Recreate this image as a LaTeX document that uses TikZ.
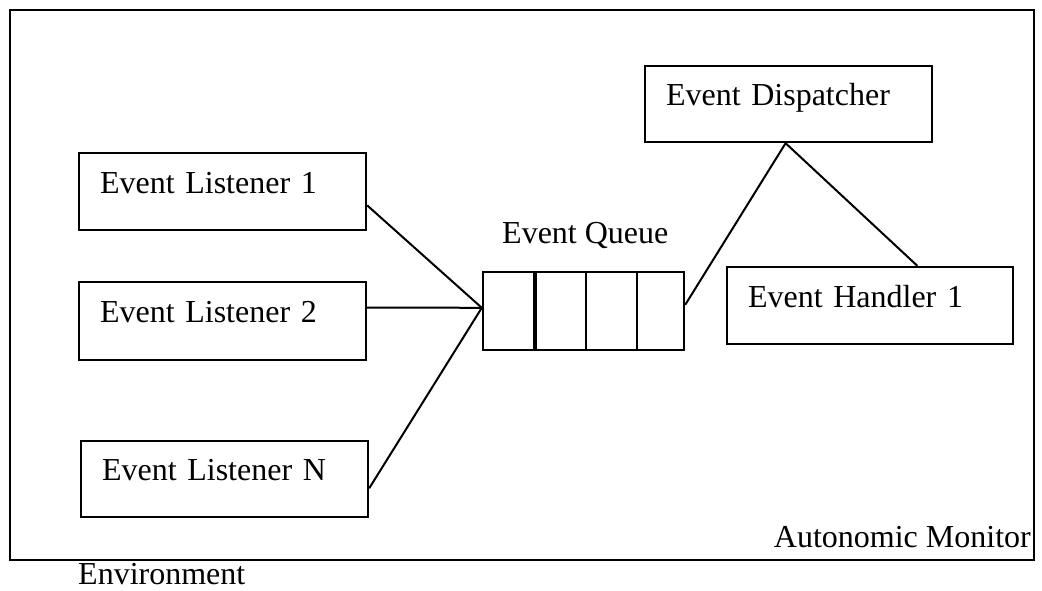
\documentclass[tikz,border=0pt]{standalone}
\usepackage{fontspec}
\setmainfont{Liberation Serif}
\usetikzlibrary{calc}
\begin{document}
\begin{tikzpicture}[x=1pt,y=-1pt,
  every node/.style={font=\fontsize{32}{38}\selectfont},
  frame/.style={draw,line width=2.5pt,inner sep=0pt},
  unit/.style={draw,line width=2.4pt,inner xsep=21pt,inner ysep=0pt,
    text height=21pt,text depth=18pt,align=left},
  cell/.style={draw,line width=2.4pt,inner sep=0pt,minimum height=78pt},
  caption/.style={inner sep=0pt},
  link/.style={line width=2pt}]
\useasboundingbox (0,0) rectangle (1042,590);

% outer monitor frame
\node[frame,minimum width=1024pt,minimum height=550pt] (monitor) at (522,285) {};
\node[caption,anchor=base east] (montext) at (1031,547) {Autonomic Monitor};
\node[caption,anchor=base west] (envtext) at (78,584) {Environment};

% listeners
\node[unit,text width=245pt,minimum height=77pt] (l1) at (222.5,191.5) {Event Listener 1};
\node[unit,text width=245pt,minimum height=78pt] (l2) at (222.5,321) {Event Listener 2};
\node[unit,text width=245pt,minimum height=76pt] (ln) at (224.5,479) {Event Listener N};

% queue cells
\node[cell,minimum width=51pt] (q1) at (508.5,311) {};
\node[cell,minimum width=52pt] (q2) at (560,311) {};
\node[cell,minimum width=51pt] (q3) at (611.5,311) {};
\node[cell,minimum width=47pt] (q4) at (660.5,311) {};
\draw[line width=3.2pt] (q1.north east) -- (q1.south east);
\node[caption,anchor=base west] (qlabel) at (502,243) {Event Queue};

% dispatcher and handler
\node[unit,text width=245pt,minimum height=76pt] (disp) at (788.5,104) {Event Dispatcher};
\node[unit,text width=244pt,minimum height=77pt] (hand) at (870,305.5) {Event Handler 1};

% connectors
\coordinate (qin) at ($(q1.north west)!0.46!(q1.south west)$);
\draw[link] ($(l1.north east)!0.675!(l1.south east)$) -- (qin);
\draw[link] ($(l2.north east)!0.333!(l2.south east)$) -- (qin);
\draw[link] ($(ln.north east)!0.618!(ln.south east)$) -- (qin);
\coordinate (dtip) at ($(disp.south west)!0.49!(disp.south east)$);
\draw[link] ($(q4.north east)!0.423!(q4.south east)$) -- (dtip);
\draw[link] (dtip) -- ($(hand.north west)!0.664!(hand.north east)$);
\end{tikzpicture}
\end{document}
